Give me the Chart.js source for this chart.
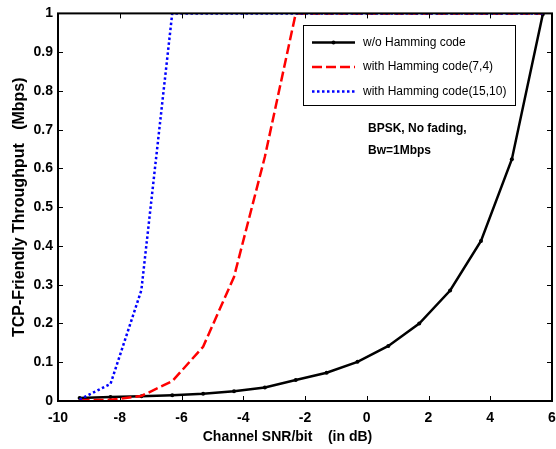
<!DOCTYPE html>
<html>
<head>
<meta charset="utf-8">
<script src="https://cdn.jsdelivr.net/npm/chart.js@4.4.1/dist/chart.umd.min.js"></script>
<style>
    body { margin: 0; background: #ffffff; }
    #wrap { width: 556px; height: 449px; }
</style>
</head>
<body>
<div id="wrap"><canvas id="throughputChart" width="556" height="449"></canvas></div>
<script>
// Données
const snrDb = [-9.3, -8.3, -7.3, -6.3, -5.3, -4.3, -3.3, -2.3, -1.3, -0.3, 0.7, 1.7, 2.7, 3.7, 4.7, 5.7];
const noCoding = [0.008, 0.010, 0.012, 0.015, 0.019, 0.025, 0.035, 0.054, 0.073, 0.101, 0.142, 0.200, 0.285, 0.413, 0.624, 0.997];
const hamming74 = [0.002, 0.003, 0.013, 0.051, 0.140, 0.320, 0.630, 1, 1, 1, 1, 1, 1, 1, 1, 1];
const hamming1510 = [0.004, 0.044, 0.286, 1, 1, 1, 1, 1, 1, 1, 1, 1, 1, 1, 1, 1];
const seriesLabels = ['w/o Hamming code', 'with Hamming code(7,4)', 'with Hamming code(15,10)'];
const noteLines = ['BPSK, No fading,', 'Bw=1Mbps'];

const FONT = '"Liberation Sans", Arial, sans-serif';
Chart.defaults.font.family = FONT;
Chart.defaults.color = '#000000';

const toPoints = (ys) => ys.map((y, i) => ({ x: snrDb[i], y: y }));

// Cadre + graduations vers l'intérieur (style MATLAB)
const boxTicks = {
    id: 'boxTicks',
    afterDatasetsDraw(chart) {
        const { ctx, chartArea: a, scales: { x, y } } = chart;
        const len = 5;
        ctx.save();
        ctx.strokeStyle = '#000000';
        ctx.lineWidth = 1;
        ctx.beginPath();
        x.ticks.forEach(t => {
            const px = Math.round(x.getPixelForValue(t.value)) + 0.5;
            ctx.moveTo(px, a.bottom); ctx.lineTo(px, a.bottom - len);
            ctx.moveTo(px, a.top); ctx.lineTo(px, a.top + len);
        });
        y.ticks.forEach(t => {
            const py = Math.round(y.getPixelForValue(t.value)) + 0.5;
            ctx.moveTo(a.left, py); ctx.lineTo(a.left + len, py);
            ctx.moveTo(a.right, py); ctx.lineTo(a.right - len, py);
        });
        ctx.stroke();
        ctx.lineWidth = 2;
        ctx.strokeRect(a.left, a.top, a.right - a.left, a.bottom - a.top);
        ctx.restore();
    }
};

// Légende encadrée et annotation
const legendBox = {
    id: 'legendBox',
    afterDraw(chart) {
        const { ctx } = chart;
        const bx = 303, by = 25, bw = 212, bh = 80;
        ctx.save();
        ctx.fillStyle = '#ffffff';
        ctx.fillRect(bx, by, bw, bh);
        ctx.strokeStyle = '#000000';
        ctx.lineWidth = 1;
        ctx.strokeRect(bx + 0.5, by + 0.5, bw, bh);
        const rows = [42.5, 67, 91.5];
        chart.data.datasets.forEach((ds, i) => {
            const ry = rows[i];
            ctx.strokeStyle = ds.borderColor;
            ctx.lineWidth = ds.borderWidth;
            ctx.setLineDash(ds.borderDash || []);
            ctx.beginPath();
            ctx.moveTo(312, ry); ctx.lineTo(355, ry);
            ctx.stroke();
            ctx.setLineDash([]);
            if (ds.pointRadius > 0) {
                ctx.fillStyle = ds.borderColor;
                ctx.beginPath();
                ctx.arc(333.5, ry, ds.pointRadius, 0, Math.PI * 2);
                ctx.fill();
            }
            ctx.fillStyle = '#000000';
            ctx.font = '12px ' + FONT;
            ctx.textBaseline = 'middle';
            ctx.fillText(ds.label, 363, ry);
        });
        ctx.font = 'bold 12px ' + FONT;
        ctx.fillText(noteLines[0], 368, 129);
        ctx.fillText(noteLines[1], 368, 151);
        ctx.restore();
    }
};

new Chart(document.getElementById('throughputChart'), {
    type: 'line',
    data: {
        datasets: [{
            label: seriesLabels[0],
            data: toPoints(noCoding),
            borderColor: '#000000',
            backgroundColor: '#000000',
            borderWidth: 2.5,
            pointRadius: 2,
            pointBackgroundColor: '#000000',
            pointBorderWidth: 0,
            order: 3
        }, {
            label: seriesLabels[1],
            data: toPoints(hamming74),
            borderColor: '#ff0000',
            borderWidth: 2.5,
            borderDash: [10, 4],
            pointRadius: 0,
            order: 2
        }, {
            label: seriesLabels[2],
            data: toPoints(hamming1510),
            borderColor: '#0000ff',
            borderWidth: 2.5,
            borderDash: [2.5, 2.5],
            pointRadius: 0,
            order: 1
        }]
    },
    options: {
        responsive: false,
        animation: false,
        layout: { padding: { top: 13, right: 4, bottom: 0, left: 0 } },
        elements: { line: { tension: 0, borderCapStyle: 'butt' } },
        plugins: {
            legend: { display: false },
            tooltip: { enabled: false }
        },
        scales: {
            x: {
                type: 'linear',
                min: -10,
                max: 6,
                grid: { display: false, drawTicks: false },
                border: { display: false },
                ticks: {
                    stepSize: 2,
                    padding: 9,
                    font: { size: 14, weight: 'bold' }
                },
                title: {
                    display: true,
                    text: 'Channel SNR/bit    (in dB)         ',
                    font: { size: 14, weight: 'bold' },
                    padding: { top: 0, bottom: 3 }
                },
                afterFit: (s) => { s.height = 48; s.paddingLeft = 0; s.paddingRight = 0; }
            },
            y: {
                min: 0,
                max: 1,
                grid: { display: false, drawTicks: false },
                border: { display: false },
                ticks: {
                    stepSize: 0.1,
                    padding: 5,
                    font: { size: 14, weight: 'bold' },
                    callback: (v) => Number(v.toFixed(1)).toString()
                },
                title: {
                    display: true,
                    text: 'TCP-Friendly Throughput   (Mbps)',
                    font: { size: 16, weight: 'bold' },
                    padding: { top: 10, bottom: 0 }
                },
                afterFit: (s) => { s.width = 58; }
            }
        }
    },
    plugins: [boxTicks, legendBox]
});
</script>
</body>
</html>
